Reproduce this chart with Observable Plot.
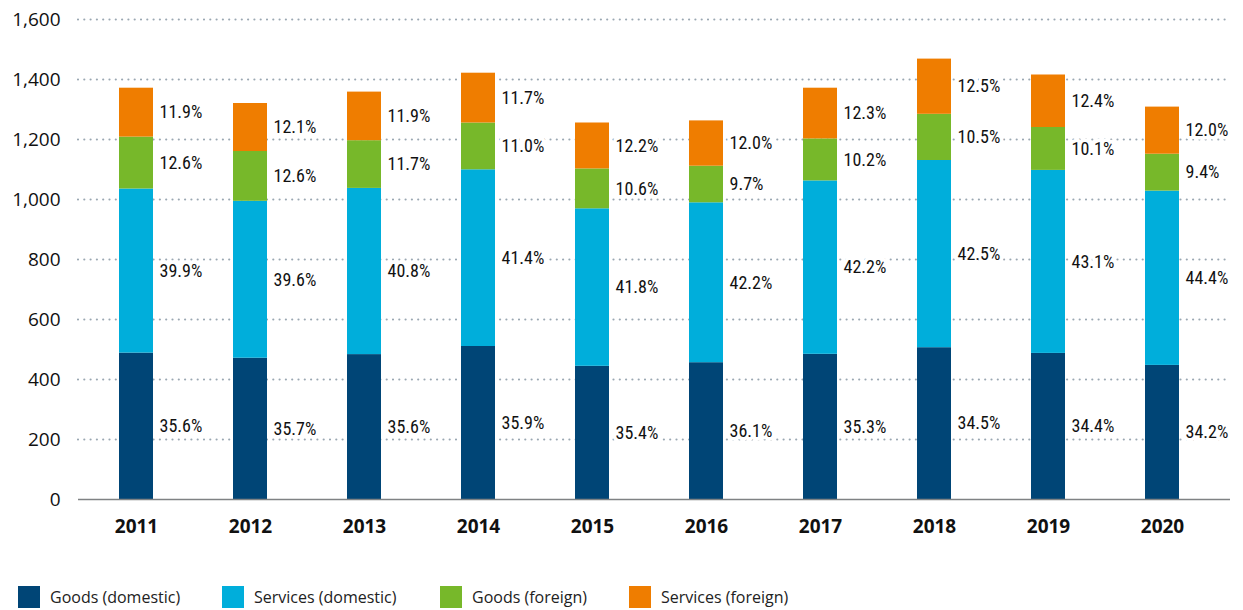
<!DOCTYPE html>
<html>
<head>
<meta charset="utf-8">
<script src="https://cdn.jsdelivr.net/npm/d3@7"></script>
<script src="https://cdn.jsdelivr.net/npm/@observablehq/plot@0.6"></script>
<style>
  body { margin: 0; background: #fff; font-family: "Open Sans", sans-serif; }
  #legend { display: flex; margin-top: 41px; padding-left: 18px; font-size: 16px; color: #222; }
  .item { display: flex; align-items: center; height: 22px; }
  .sw { width: 22px; height: 22px; margin-right: 10px; }
  .lbl text { font-family: "Liberation Sans Narrow", "Roboto Condensed", "DejaVu Sans Condensed", sans-serif; font-stretch: condensed; font-weight: 400; }
</style>
</head>
<body>
<div id="chart"></div>
<div id="legend"></div>
<script>
const years = ["2011","2012","2013","2014","2015","2016","2017","2018","2019","2020"];
const categories = ["Goods (domestic)", "Services (domestic)", "Goods (foreign)", "Services (foreign)"];
const colors = ["#004576", "#00aedb", "#77b82a", "#ef7d00"];
const goodsDomestic    = [488, 471, 483, 510, 444, 456, 484, 506, 487, 447];
const servicesDomestic = [547, 523, 554, 589, 525, 533, 578, 624, 610, 581];
const goodsForeign     = [173, 166, 159, 156, 133, 122, 140, 154, 143, 123];
const servicesForeign  = [163, 160, 162, 166, 153, 151, 169, 184, 175, 157];
const pctGoodsDomestic    = ["35.6%","35.7%","35.6%","35.9%","35.4%","36.1%","35.3%","34.5%","34.4%","34.2%"];
const pctServicesDomestic = ["39.9%","39.6%","40.8%","41.4%","41.8%","42.2%","42.2%","42.5%","43.1%","44.4%"];
const pctGoodsForeign     = ["12.6%","12.6%","11.7%","11.0%","10.6%","9.7%","10.2%","10.5%","10.1%","9.4%"];
const pctServicesForeign  = ["11.9%","12.1%","11.9%","11.7%","12.2%","12.0%","12.3%","12.5%","12.4%","12.0%"];
const yTicks = [0, 200, 400, 600, 800, 1000, 1200, 1400, 1600];

const series = [goodsDomestic, servicesDomestic, goodsForeign, servicesForeign];
const pcts = [pctGoodsDomestic, pctServicesDomestic, pctGoodsForeign, pctServicesForeign];
const data = [];
categories.forEach((c, ci) => {
  years.forEach((y, yi) => {
    data.push({year: y, cat: c, value: series[ci][yi], label: pcts[ci][yi]});
  });
});

const chart = Plot.plot({
  width: 1243,
  height: 545,
  marginLeft: 78,
  marginRight: 13,
  marginTop: 19,
  marginBottom: 46,
  style: {fontFamily: "'Open Sans', sans-serif", background: "#fff", overflow: "visible"},
  x: {domain: years, paddingInner: 0.7, paddingOuter: 0.4, align: 0.446, label: null},
  y: {domain: [0, 1600], ticks: yTicks, label: null},
  color: {domain: categories, range: colors},
  marks: [
    Plot.gridY(yTicks.filter(d => d > 0), {stroke: "#9aa7b2", strokeOpacity: 1, strokeWidth: 2.2, strokeDasharray: "0,6.3", strokeLinecap: "round"}),
    Plot.barY(data, Plot.stackY({x: "year", y: "value", z: "cat", fill: "cat", order: null})),
    Plot.text(data, Plot.stackY({x: "year", y: "value", z: "cat", text: "label", order: null,
      className: "lbl",
      textAnchor: "start", dx: 23, fill: "#111", fontSize: 18,
      stroke: "white", strokeWidth: 7, paintOrder: "stroke"})),
    Plot.ruleY([0], {stroke: "#7f8284", strokeWidth: 1.5}),
    Plot.axisY({ticks: yTicks, tickSize: 0, tickPadding: 18, fontSize: 19, fill: "#111", tickFormat: d3.format(","), label: null}),
    Plot.axisX({tickSize: 0, tickPadding: 20, fontSize: 19, fontWeight: "bold", fill: "#111", label: null})
  ]
});
document.getElementById("chart").appendChild(chart);

const widths = [204, 218, 189, 200];
const legend = document.getElementById("legend");
categories.forEach((c, i) => {
  const it = document.createElement("div");
  it.className = "item";
  it.style.width = widths[i] + "px";
  it.innerHTML = `<span class="sw" style="background:${colors[i]}"></span><span>${c}</span>`;
  legend.appendChild(it);
});
</script>
</body>
</html>
